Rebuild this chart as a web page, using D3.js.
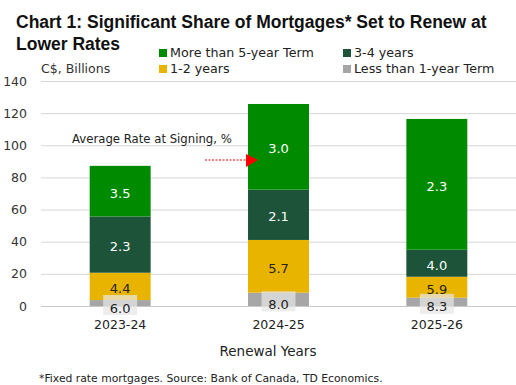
<!DOCTYPE html>
<html><head><meta charset="utf-8">
<script src="https://cdn.jsdelivr.net/npm/d3@7"></script>
<style>body{margin:0;background:#fff}svg{display:block}text{font-family:"DejaVu Sans",sans-serif}</style>
</head><body><svg id="c" width="516" height="385"></svg>
<script>
const categories = ["2023-24","2024-25","2025-26"];
const seriesNames = ["Less than 1-year Term","1-2 years","3-4 years","More than 5-year Term"];
const lessThan1 = [3.7, 8.3, 5.2];
const oneToTwo = [17.0, 32.8, 13.0];
const threeToFour = [35.0, 31.3, 16.8];
const moreThan5 = [31.5, 53.3, 81.4];
const rateLessThan1 = ["6.0","8.0","8.3"];
const rateOneToTwo = ["4.4","5.7","5.9"];
const rateThreeToFour = ["2.3","2.1","4.0"];
const rateMoreThan5 = ["3.5","3.0","2.3"];
const yTicks = [0,20,40,60,80,100,120,140];

const colors = {"Less than 1-year Term":"#a6a6a6","1-2 years":"#e8b400","3-4 years":"#1d5439","More than 5-year Term":"#008a00"};
const labelColors = {"Less than 1-year Term":"#222","1-2 years":"#222","3-4 years":"#fff","More than 5-year Term":"#fff"};
const valuesBySeries = [lessThan1, oneToTwo, threeToFour, moreThan5];
const ratesBySeries = [rateLessThan1, rateOneToTwo, rateThreeToFour, rateMoreThan5];

const table = categories.map((c,i)=>{
  const o={cat:c};
  seriesNames.forEach((s,j)=>{o[s]=valuesBySeries[j][i];});
  return o;
});
const stacked = d3.stack().keys(seriesNames)(table);

const svg = d3.select("#c");
const FONT = "'DejaVu Sans',sans-serif";
const x = d3.scaleBand().domain(categories).range([41,516]).paddingInner(0.615).paddingOuter(0.3075);
const y = d3.scaleLinear().domain([0,140]).range([306,81]);

// grid
svg.append("g").selectAll("line").data(yTicks).join("line")
  .attr("x1",41).attr("x2",516).attr("y1",d=>y(d)+0.5).attr("y2",d=>y(d)+0.5)
  .attr("stroke",d=>d===0?"#c8c8c8":"#d6d6d6").attr("stroke-width",1);

// y axis labels
const yAxis = d3.axisLeft(y).tickValues(yTicks).tickSize(0).tickPadding(0);
const gy = svg.append("g").attr("transform","translate(27,0)").call(yAxis);
gy.select(".domain").remove();
gy.selectAll("text").attr("font-size",12.5).attr("fill","#333").style("font-family",FONT);

// bars
stacked.forEach((layer,j)=>{
  svg.append("g").selectAll("rect").data(layer).join("rect")
    .attr("x",d=>x(d.data.cat)).attr("width",x.bandwidth())
    .attr("y",d=>y(d[1])).attr("height",d=>y(d[0])-y(d[1]))
    .attr("fill",colors[seriesNames[j]]);
});

// labels
stacked.forEach((layer,j)=>{
  const s = seriesNames[j];
  layer.forEach((d,i)=>{
    const cx = x(d.data.cat)+x.bandwidth()/2;
    let cy = (y(d[0])+y(d[1]))/2 + 2;
    if(j===0){
      cy = (y(d[0])+y(d[1]))/2 + 5;
      svg.append("rect").attr("x",cx-17).attr("y",cy-13).attr("width",34).attr("height",20)
        .attr("fill","#e6e6e6").attr("opacity",0.72);
    }
    svg.append("text").attr("x",cx).attr("y",cy).attr("dy","0.35em").attr("text-anchor","middle")
      .attr("font-size",13).attr("fill",labelColors[s]).text(ratesBySeries[j][i]);
  });
});

// x axis labels
const xAxis = d3.axisBottom(x).tickSize(0).tickPadding(0);
const gx = svg.append("g").attr("transform","translate(0,320)").call(xAxis);
gx.select(".domain").remove();
gx.selectAll("text").attr("font-size",12.5).attr("fill","#222").attr("dy","0.75em").style("font-family",FONT);

svg.append("text").attr("x",268).attr("y",356).attr("text-anchor","middle").attr("font-size",13.5).attr("fill","#222").text("Renewal Years");

// title
const TFONT = "'Liberation Sans',Arial,sans-serif";
svg.append("text").attr("x",16).attr("y",28).attr("font-size",17.5).attr("font-weight","bold").style("font-family",TFONT).attr("fill","#111").text("Chart 1: Significant Share of Mortgages* Set to Renew at");
svg.append("text").attr("x",16).attr("y",50).attr("font-size",17.5).attr("font-weight","bold").style("font-family",TFONT).attr("fill","#111").text("Lower Rates");

svg.append("text").attr("x",41).attr("y",73).attr("font-size",12.5).attr("fill","#333").text("C$, Billions");

// legend
const legendOrder = [["More than 5-year Term",159,49],["3-4 years",343,49],["1-2 years",159,65],["Less than 1-year Term",343,65]];
legendOrder.forEach(([s,lx,ly])=>{
  svg.append("rect").attr("x",lx).attr("y",ly).attr("width",8).attr("height",8).attr("fill",colors[s]);
  svg.append("text").attr("x",lx+11).attr("y",ly+8).attr("font-size",12.7).attr("fill","#222").text(s);
});

// annotation
svg.append("text").attr("x",72).attr("y",143).attr("font-size",11.7).attr("fill","#222").text("Average Rate at Signing, %");
svg.append("line").attr("x1",205).attr("x2",247).attr("y1",160).attr("y2",160).attr("stroke","#ff0000").attr("stroke-width",1).attr("stroke-dasharray","2,1.5");
svg.append("path").attr("d","M246,154 L258,160 L246,167 Z").attr("fill","#ff0000");

// footnote
svg.append("text").attr("x",39).attr("y",382).attr("font-size",10.8).attr("fill","#222").text("*Fixed rate mortgages. Source: Bank of Canada, TD Economics.");
</script></body></html>
